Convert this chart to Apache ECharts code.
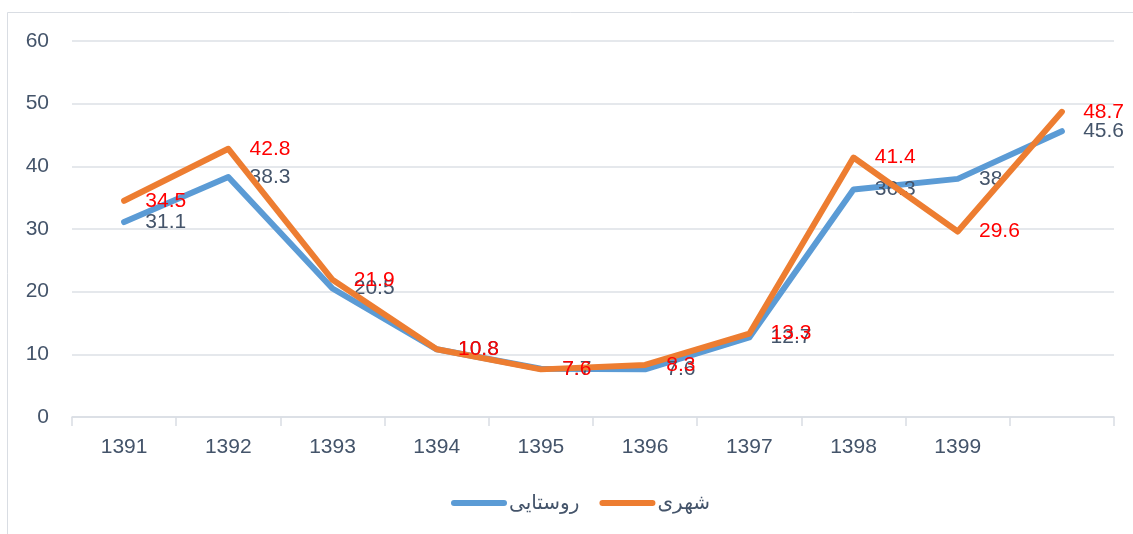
<!DOCTYPE html>
<html><head><meta charset="utf-8">
<script src="https://cdn.jsdelivr.net/npm/echarts@6/dist/echarts.min.js"></script>
<style>html,body{margin:0;padding:0;background:#fff}#c{width:1133px;height:534px}</style>
</head><body><div id="c"></div>
<script>
const categories = ['1391','1392','1393','1394','1395','1396','1397','1398','1399',''];
const rural = [31.1, 38.3, 20.5, 10.8, 7.7, 7.6, 12.7, 36.3, 38, 45.6];
const urban = [34.5, 42.8, 21.9, 10.8, 7.6, 8.3, 13.3, 41.4, 29.6, 48.7];
const ruralName = 'روستایی';
const urbanName = 'شهری';
const yTicks = {min: 0, max: 60, interval: 10};

const FONT = '"Liberation Sans", Arial, "DejaVu Sans", sans-serif';
const chart = echarts.init(document.getElementById('c'), null, {renderer: 'canvas'});
const linePath = 'path://M3,0 L53,0 A3,3 0 0 1 53,6 L3,6 A3,3 0 0 1 3,0 Z';
chart.setOption({
  animation: false,
  backgroundColor: '#fff',
  graphic: [{type: 'rect', shape: {x: 7.5, y: 12.5, width: 1130, height: 530}, style: {fill: 'none', stroke: '#D9DDE3', lineWidth: 1}, silent: true}],
  grid: {left: 72, right: 19, top: 41, bottom: 117},
  legend: {
    bottom: 16, left: 446, itemWidth: 56, itemHeight: 6, itemGap: 20,
    textStyle: {fontFamily: FONT, fontSize: 20, color: '#44546A', padding: [0, 0, 0, -3]},
    data: [{name: ruralName, icon: linePath}, {name: urbanName, icon: linePath}]
  },
  xAxis: {
    type: 'category', data: categories, boundaryGap: true,
    axisLine: {lineStyle: {color: '#D9DDE3', width: 1.5}},
    axisTick: {show: true, length: 9, lineStyle: {color: '#D9DDE3', width: 1.5}},
    axisLabel: {fontFamily: FONT, fontSize: 21, color: '#44546A', margin: 20}
  },
  yAxis: {
    type: 'value', min: yTicks.min, max: yTicks.max, interval: yTicks.interval,
    axisLine: {show: false}, axisTick: {show: false},
    splitLine: {lineStyle: {color: '#DDE1E6', width: 1.5}},
    axisLabel: {fontFamily: FONT, fontSize: 21, color: '#44546A', margin: 23}
  },
  series: [
    {name: ruralName, type: 'line', data: rural, symbol: 'circle', symbolSize: 0.5, showSymbol: true, z: 2,
     lineStyle: {color: '#5B9BD5', width: 6, cap: 'round', join: 'round'}, itemStyle: {color: '#5B9BD5'},
     labelLayout: {hideOverlap: false},
     label: {show: true, position: 'right', distance: 21, offset: [0, 6], fontFamily: FONT, fontSize: 21, color: '#44546A'}},
    {name: urbanName, type: 'line', data: urban, symbol: 'circle', symbolSize: 0.5, showSymbol: true, z: 3,
     lineStyle: {color: '#ED7D31', width: 6, cap: 'round', join: 'round'}, itemStyle: {color: '#ED7D31'},
     labelLayout: {hideOverlap: false},
     label: {show: true, position: 'right', distance: 21, offset: [0, 6], fontFamily: FONT, fontSize: 21, color: '#FF0000'}}
  ]
});
</script></body></html>
